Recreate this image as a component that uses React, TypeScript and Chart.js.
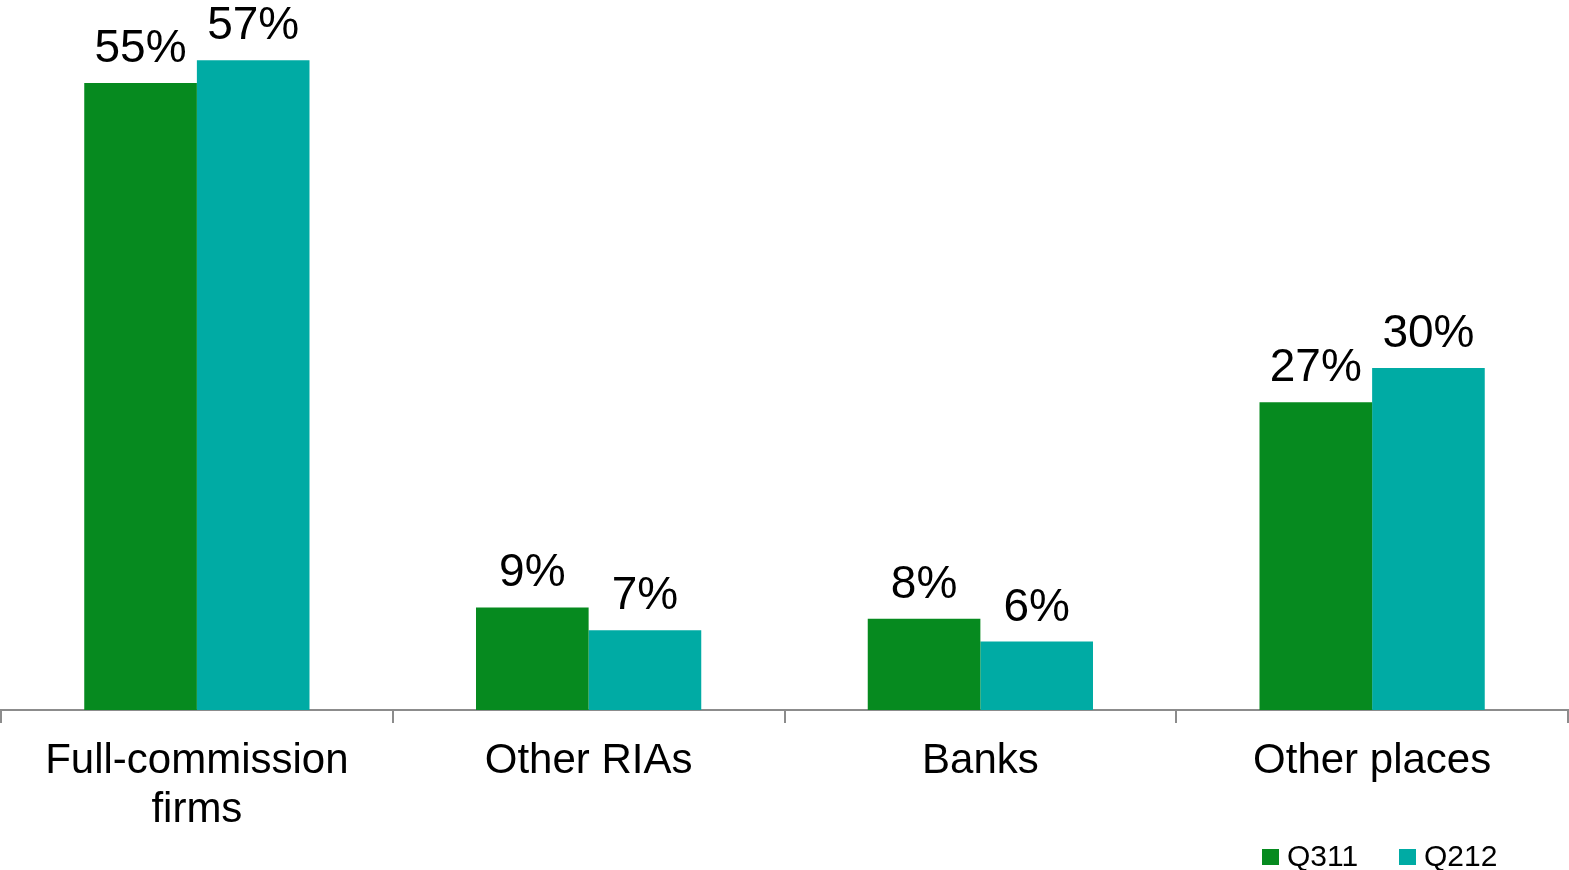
import React, { useEffect, useRef } from "react";
import { Chart, registerables } from "chart.js";

Chart.register(...registerables);

const categories: (string | string[])[] = [["Full-commission", "firms"], "Other RIAs", "Banks", "Other places"];
const seriesNames = ["Q311", "Q212"];
const q311Values = [55, 9, 8, 27];
const q212Values = [57, 7, 6, 30];
const seriesColors = ["#068A1F", "#00ABA4"];

const FONT = "'Liberation Sans', Arial, Helvetica, sans-serif";

const valueLabelPlugin = {
  id: "valueLabels",
  afterDatasetsDraw(chart: any) {
    const ctx = chart.ctx;
    ctx.save();
    ctx.font = `46px ${FONT}`;
    ctx.fillStyle = "#000000";
    ctx.textAlign = "center";
    ctx.textBaseline = "alphabetic";
    chart.data.datasets.forEach((ds: any, di: number) => {
      const meta = chart.getDatasetMeta(di);
      meta.data.forEach((bar: any, i: number) => {
        ctx.fillText(`${ds.data[i]}%`, bar.x, bar.y - 21);
      });
    });
    ctx.restore();
  },
};

const customLegendPlugin = {
  id: "customLegend",
  afterDraw(chart: any) {
    const ctx = chart.ctx;
    ctx.save();
    ctx.font = `30px ${FONT}`;
    ctx.textAlign = "left";
    ctx.textBaseline = "alphabetic";
    const starts = [1262, 1399];
    chart.data.datasets.forEach((ds: any, di: number) => {
      const x = starts[di];
      ctx.fillStyle = ds.backgroundColor;
      ctx.fillRect(x, 849, 17, 16);
      ctx.fillStyle = "#000000";
      ctx.fillText(ds.label, x + 25, 866);
    });
    ctx.restore();
  },
};

export default function App() {
  const canvasRef = useRef<HTMLCanvasElement | null>(null);

  useEffect(() => {
    if (!canvasRef.current) return;
    const chart = new Chart(canvasRef.current, {
      type: "bar",
      data: {
        labels: categories,
        datasets: [
          { label: seriesNames[0], data: q311Values, backgroundColor: seriesColors[0] },
          { label: seriesNames[1], data: q212Values, backgroundColor: seriesColors[1] },
        ],
      },
      options: {
        responsive: false,
        animation: false,
        datasets: {
          bar: { categoryPercentage: 0.575, barPercentage: 1.0 },
        },
        layout: { padding: { top: 26, left: 1, right: 1, bottom: 21 } },
        plugins: {
          legend: { display: false },
          tooltip: { enabled: false },
        },
        scales: {
          x: {
            grid: {
              offset: true,
              drawOnChartArea: false,
              drawTicks: true,
              tickLength: 13,
              color: "#8C8C8C",
              lineWidth: 2,
            },
            border: { display: true, color: "#8C8C8C", width: 2 },
            ticks: {
              color: "#000000",
              padding: 14,
              maxRotation: 0,
              autoSkip: false,
              font: { family: FONT, size: 42, lineHeight: 1.167 },
            },
          },
          y: {
            display: false,
            min: 0,
            max: 60,
          },
        },
      },
      plugins: [valueLabelPlugin, customLegendPlugin],
    } as any);
    return () => chart.destroy();
  }, []);

  return (
    <div style={{ position: "absolute", left: 0, top: 0, width: 1569, height: 870, background: "#ffffff" }}>
      <canvas ref={canvasRef} width={1569} height={870} style={{ display: "block" }} />
    </div>
  );
}
